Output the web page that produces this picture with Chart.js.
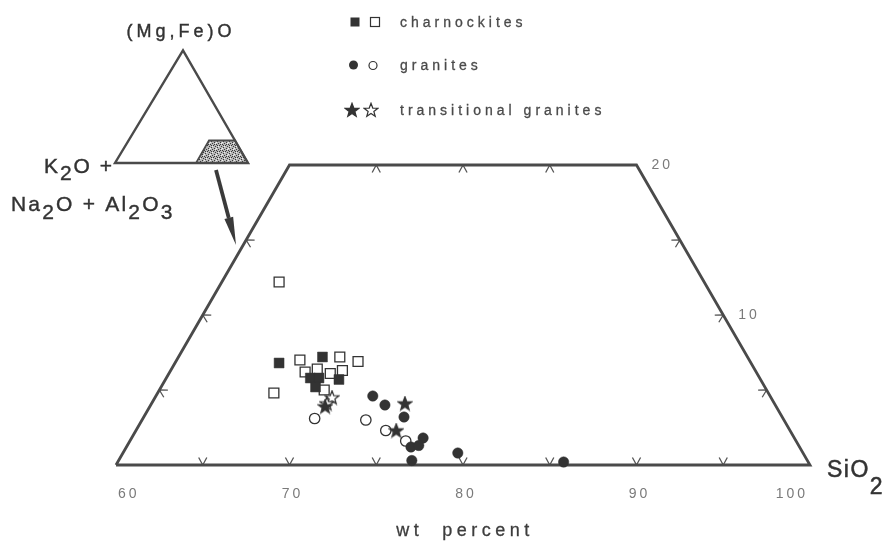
<!DOCTYPE html>
<html>
<head>
<meta charset="utf-8">
<script src="https://cdn.jsdelivr.net/npm/chart.js@4.4.1/dist/chart.umd.min.js"></script>
<style>
  html, body { margin: 0; padding: 0; background: #fff; }
  #wrap { width: 888px; height: 542px; }
</style>
</head>
<body>
<div id="wrap"><canvas id="ternary" width="888" height="542"></canvas></div>
<script>
// Each point is [SiO2, (Mg,Fe)O] in wt percent; K2O + Na2O + Al2O3 makes up the rest
const charnockitesFilled = [[66.0, 6.8], [68.3, 7.2], [68.3, 5.8], [68.8, 5.8], [70.0, 5.7], [68.9, 5.2]];
const charnockitesOpen = [[63.3, 12.2], [67.1, 7.0], [69.3, 7.2], [70.5, 6.9], [67.8, 6.2], [68.4, 6.4],
                          [69.3, 6.1], [69.9, 6.3], [69.5, 5.0], [66.7, 4.8]];
const granitesFilled = [[72.5, 4.6], [73.5, 4.0], [75.0, 3.2], [76.8, 1.8], [76.4, 1.2], [76.8, 1.3],
                        [76.9, 0.3], [79.3, 0.8], [85.7, 0.2]];
const granitesOpen = [[69.9, 3.1], [72.9, 3.0], [74.4, 2.3], [75.9, 1.6]];
const transitionalFilled = [[70.1, 3.9], [74.6, 4.1], [75.0, 2.3]];
const transitionalOpen = [[70.2, 4.5], [70.1, 4.1]];

// field outline: SiO2 >= 60, (Mg,Fe)O <= 20
const fieldCorners = [[60, 0], [100, 0], [80, 20], [60, 20], [60, 0]];
const sio2TickLabels = [60, 70, 80, 90, 100];
const baseTicks = [65, 70, 75, 80, 85, 90, 95];
const topTicks = [65, 70, 75];
const sideTicks = [5, 10, 15];
const mgfeTickLabels = [10, 20];

// ternary -> cartesian (x in SiO2 units along the base, y = (Mg,Fe)O)
const toXY = ([s, m]) => ({ x: s + m / 2, y: m });

const INK = '#333';
const LINE = '#4a4a4a';

function makeStar(filled) {
    const c = document.createElement('canvas');
    c.width = 16; c.height = 16;
    const g = c.getContext('2d');
    g.beginPath();
    for (let i = 0; i < 10; i++) {
        const r = i % 2 === 0 ? 7.2 : 3.0;
        const a = -Math.PI / 2 + i * Math.PI / 5;
        const px = 8 + r * Math.cos(a), py = 8.5 + r * Math.sin(a);
        i === 0 ? g.moveTo(px, py) : g.lineTo(px, py);
    }
    g.closePath();
    g.fillStyle = filled ? INK : '#fff';
    g.fill();
    g.lineWidth = 1.2;
    g.strokeStyle = INK;
    g.stroke();
    return c;
}
const starFilled = makeStar(true);
const starOpen = makeStar(false);

function stippleFill(ctx) {
    const c = document.createElement('canvas');
    c.width = 6; c.height = 6;
    const g = c.getContext('2d');
    g.fillStyle = '#b8b8b8';
    g.fillRect(0, 0, 6, 6);
    g.fillStyle = '#3a3a3a';
    [[0, 0], [3, 1], [1, 3], [4, 4], [5, 2], [2, 5], [1, 1], [4, 0]].forEach(([a, b]) => g.fillRect(a, b, 1, 1));
    g.fillStyle = '#f0f0f0';
    [[2, 2], [5, 5], [0, 4]].forEach(([a, b]) => g.fillRect(a, b, 1, 1));
    return ctx.createPattern(c, 'repeat');
}

// text with subscripts; parts = [[text, isSub], ...]
function chem(ctx, parts, x, y, size, subDrop, spacing, align, heavy) {
    ctx.font = size + 'px "Liberation Sans", Arial, sans-serif';
    ctx.letterSpacing = spacing + 'px';
    let w = 0;
    parts.forEach(([t]) => { w += ctx.measureText(t).width; });
    let cx = align === 'right' ? x - w : align === 'center' ? x - w / 2 : x;
    ctx.textAlign = 'left';
    ctx.textBaseline = 'alphabetic';
    ctx.lineWidth = heavy || 0;
    ctx.strokeStyle = ctx.fillStyle;
    parts.forEach(([t, sub]) => {
        const ty = sub ? y + subDrop : y;
        ctx.fillText(t, cx, ty);
        if (heavy) ctx.strokeText(t, cx, ty);
        cx += ctx.measureText(t).width;
    });
}

function vTick(ctx, p, dx, dy) {
    const len = 8.5, half = 0.5;
    ctx.beginPath();
    [-half, half].forEach(a => {
        const ux = dx * Math.cos(a) - dy * Math.sin(a);
        const uy = dx * Math.sin(a) + dy * Math.cos(a);
        ctx.moveTo(p.x, p.y);
        ctx.lineTo(p.x + ux * len, p.y + uy * len);
    });
    ctx.stroke();
}

const decor = {
    id: 'decor',
    beforeDraw(chart) {
        const ctx = chart.ctx;
        ctx.save();
        ctx.fillStyle = '#fff';
        ctx.fillRect(0, 0, chart.width, chart.height);
        ctx.restore();
    },
    beforeDatasetsDraw(chart) {
        const ctx = chart.ctx, sx = chart.scales.x, sy = chart.scales.y;
        const P = (s, m) => { const q = toXY([s, m]); return { x: sx.getPixelForValue(q.x), y: sy.getPixelForValue(q.y) }; };
        ctx.save();
        ctx.strokeStyle = '#555';
        ctx.lineWidth = 1.3;
        baseTicks.forEach(s => vTick(ctx, P(s, 0), 0, -1));
        topTicks.forEach(s => vTick(ctx, P(s, 20), 0, 1));
        sideTicks.forEach(m => vTick(ctx, P(60, m), 0.866, 0.5));
        sideTicks.forEach(m => vTick(ctx, P(100 - m, m), -0.866, 0.5));
        ctx.restore();
    },
    afterDatasetsDraw(chart) {
        const ctx = chart.ctx, sx = chart.scales.x, sy = chart.scales.y;
        const P = (s, m) => { const q = toXY([s, m]); return { x: sx.getPixelForValue(q.x), y: sy.getPixelForValue(q.y) }; };
        ctx.save();

        // tick labels (end labels pulled inside the corners)
        ctx.fillStyle = '#7a7a7a';
        sio2TickLabels.forEach((s, i) => {
            const p = P(s, 0);
            if (i === 0) chem(ctx, [[String(s), 0]], p.x + 2, p.y + 33, 14, 0, 3, 'left');
            else if (i === sio2TickLabels.length - 1) chem(ctx, [[String(s), 0]], p.x - 2, p.y + 33, 14, 0, 3, 'right');
            else chem(ctx, [[String(s), 0]], p.x + 3, p.y + 33, 14, 0, 3, 'center');
        });
        mgfeTickLabels.forEach(m => {
            const p = P(100 - m, m);
            chem(ctx, [[String(m), 0]], p.x + 15, p.y + 4, 14, 0, 3, 'left');
        });

        // axis names
        ctx.fillStyle = INK;
        const si = P(100, 0);
        chem(ctx, [['SiO', 0], ['2', 1]], si.x + 17, 477, 23, 17, 1.5, 'left', 0.5);
        ctx.fillStyle = '#3d3d3d';
        chem(ctx, [['wt  percent', 0]], (P(60, 0).x + si.x) / 2 + 2, 536, 18, 0, 4.5, 'center', 0.3);

        // inset triangle showing the enlarged field
        const L = { x: 118, y: 163 }, side = 130, h = side * 0.866;
        const T = (s, m) => ({ x: L.x + (s + m / 2) / 100 * side, y: L.y - m / 100 * h });
        ctx.beginPath();
        const f = fieldCorners.map(c => T(c[0], c[1]));
        f.forEach((q, i) => i ? ctx.lineTo(q.x, q.y) : ctx.moveTo(q.x, q.y));
        ctx.closePath();
        ctx.fillStyle = stippleFill(ctx);
        ctx.fill();
        ctx.strokeStyle = LINE;
        ctx.lineWidth = 1.8;
        ctx.stroke();
        ctx.beginPath();
        ctx.moveTo(L.x - 3, L.y);
        ctx.lineTo(L.x + side, L.y);
        ctx.lineTo(T(0, 100).x, T(0, 100).y);
        ctx.closePath();
        ctx.lineWidth = 2.4;
        ctx.stroke();

        ctx.fillStyle = INK;
        chem(ctx, [['(Mg,Fe)O', 0]], T(0, 100).x - 2, 37, 18, 0, 4, 'center', 0.4);
        chem(ctx, [['K', 0], ['2', 1], ['O +', 0]], 114, 173, 21, 7, 2, 'right', 0.4);
        chem(ctx, [['Na', 0], ['2', 1], ['O + Al', 0], ['2', 1], ['O', 0], ['3', 1]], 11, 211, 21, 8, 2.2, 'left', 0.4);

        // arrow from inset to main field
        const a0 = { x: 216, y: 170 }, a1 = { x: 236, y: 245 };
        const ang = Math.atan2(a1.y - a0.y, a1.x - a0.x);
        const hl = 28, hw = 4.5;
        const bx = a1.x - hl * Math.cos(ang), by = a1.y - hl * Math.sin(ang);
        ctx.strokeStyle = '#3a3a3a';
        ctx.lineWidth = 3.8;
        ctx.beginPath();
        ctx.moveTo(a0.x, a0.y);
        ctx.lineTo(bx, by);
        ctx.stroke();
        ctx.fillStyle = '#3a3a3a';
        ctx.beginPath();
        ctx.moveTo(a1.x, a1.y);
        ctx.lineTo(bx + hw * Math.sin(ang), by - hw * Math.cos(ang));
        ctx.lineTo(bx - hw * Math.sin(ang), by + hw * Math.cos(ang));
        ctx.closePath();
        ctx.fill();

        // legend
        ctx.lineWidth = 1.2;
        ctx.strokeStyle = INK;
        ctx.fillStyle = INK;
        ctx.fillRect(350.5, 17.5, 9, 9);
        ctx.fillStyle = '#fff';
        ctx.fillRect(370.5, 17.5, 9, 9);
        ctx.strokeRect(370.5, 17.5, 9, 9);
        ctx.fillStyle = INK;
        ctx.beginPath(); ctx.arc(353.5, 65, 4.5, 0, Math.PI * 2); ctx.fill();
        ctx.fillStyle = '#fff';
        ctx.beginPath(); ctx.arc(373, 65.5, 4, 0, Math.PI * 2); ctx.fill(); ctx.stroke();
        ctx.drawImage(starFilled, 344, 102);
        ctx.drawImage(starOpen, 363, 102);
        ctx.fillStyle = '#4a4a4a';
        chem(ctx, [['charnockites', 0]], 400, 27, 14, 0, 4, 'left', 0.3);
        chem(ctx, [['granites', 0]], 400, 70, 14, 0, 4, 'left', 0.3);
        chem(ctx, [['transitional granites', 0]], 400, 115, 14, 0, 4, 'left', 0.3);
        ctx.restore();
    }
};

function markerSet(label, pts, style, filled, radius, order) {
    return {
        label: label,
        data: pts.map(toXY),
        pointStyle: style,
        pointRadius: radius,
        pointBackgroundColor: filled ? INK : '#fff',
        pointBorderColor: INK,
        pointBorderWidth: filled ? 0.5 : 1.3,
        showLine: false,
        clip: false,
        order: order
    };
}

const ctx = document.getElementById('ternary').getContext('2d');
new Chart(ctx, {
    type: 'scatter',
    data: {
        datasets: [
            markerSet('transitional granites', transitionalFilled, starFilled, true, 7, 1),
            markerSet('transitional granites (open)', transitionalOpen, starOpen, false, 7, 2),
            markerSet('granites', granitesFilled, 'circle', true, 5.2, 3),
            markerSet('granites (open)', granitesOpen, 'circle', false, 5.2, 4),
            markerSet('charnockites', charnockitesFilled, 'rect', true, 7, 5),
            markerSet('charnockites (open)', charnockitesOpen, 'rect', false, 7, 6),
            {
                label: 'field',
                data: fieldCorners.map(toXY),
                showLine: true,
                borderColor: LINE,
                borderWidth: 2.8,
                pointRadius: 0,
                fill: false,
                tension: 0,
                clip: false,
                order: 10
            }
        ]
    },
    options: {
        responsive: false,
        animation: false,
        events: [],
        layout: { padding: 0, autoPadding: false },
        plugins: { legend: { display: false }, tooltip: { enabled: false } },
        scales: {
            // 60 -> 116 px and 100 -> 810 px; (Mg,Fe)O 0 -> 465 px, 20 -> 165 px
            x: { type: 'linear', display: false, min: 60 - 116 / 17.35, max: 60 + (888 - 116) / 17.35 },
            y: { type: 'linear', display: false, min: 31 - 542 / 15, max: 31 }
        }
    },
    plugins: [decor]
});
</script>
</body>
</html>
